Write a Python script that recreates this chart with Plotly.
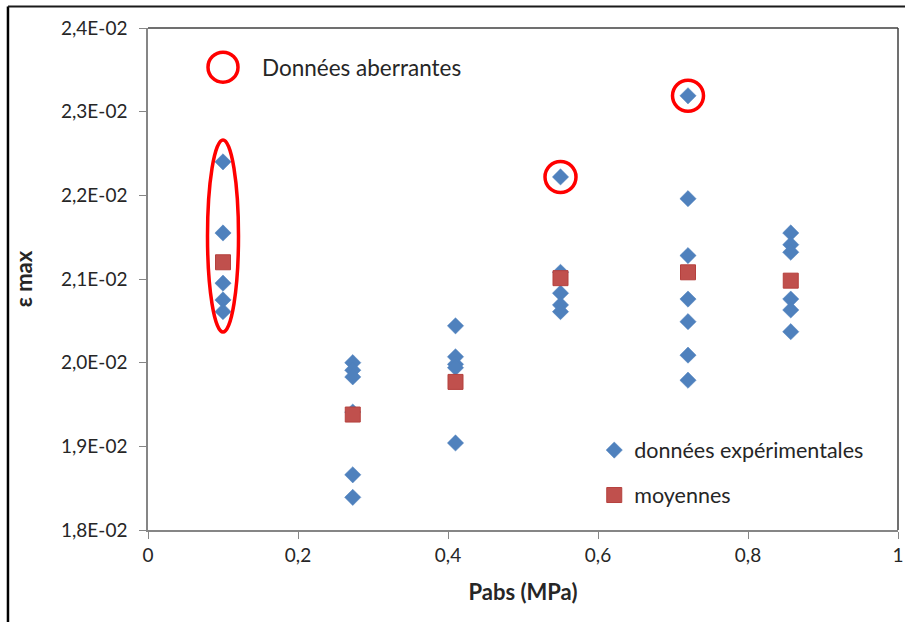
import plotly.graph_objects as go

# ---------------- data ----------------
pressures = [0.1, 0.273, 0.41, 0.55, 0.72, 0.857]

exp_p010 = [0.02240, 0.02155, 0.02095, 0.02075, 0.02061]
exp_p027 = [0.02000, 0.01991, 0.01983, 0.01941, 0.01866, 0.01839]
exp_p041 = [0.02044, 0.02007, 0.01998, 0.01994, 0.01904]
exp_p055 = [0.02222, 0.02108, 0.02083, 0.02069, 0.02061]
exp_p072 = [0.02319, 0.02196, 0.02128, 0.02076, 0.02049, 0.02009, 0.01979]
exp_p086 = [0.02155, 0.02141, 0.02132, 0.02076, 0.02063, 0.02037]

means = [0.02120, 0.01938, 0.01977, 0.02101, 0.02108, 0.02098]

# outliers to highlight (x, y)
outlier_x = [0.55, 0.72]
outlier_y = [0.02222, 0.02319]

y_tickvals = [0.018, 0.019, 0.020, 0.021, 0.022, 0.023, 0.024]
y_ticktext = ["1,8E-02", "1,9E-02", "2,0E-02", "2,1E-02", "2,2E-02", "2,3E-02", "2,4E-02"]
x_tickvals = [0, 0.2, 0.4, 0.6, 0.8, 1.0]
x_ticktext = ["0", "0,2", "0,4", "0,6", "0,8", "1"]

# ---------------- build ----------------
groups = [exp_p010, exp_p027, exp_p041, exp_p055, exp_p072, exp_p086]
exp_x, exp_y = [], []
for p, vals in zip(pressures, groups):
    exp_x += [p] * len(vals)
    exp_y += vals

FONT = "Lato, 'Open Sans', sans-serif"
TXT = "#262626"

fig = go.Figure()
fig.add_trace(go.Scatter(
    x=exp_x, y=exp_y, mode="markers", name="données expérimentales",
    legendgroup="a",
    marker=dict(symbol="diamond", size=12.5, color="#4F81BD",
                line=dict(width=0.5, color="#4F81BD")),
))
fig.add_trace(go.Scatter(
    x=pressures, y=means, mode="markers", name="moyennes",
    legendgroup="b",
    marker=dict(symbol="square", size=15, color="#C0504D",
                line=dict(width=1, color="#B5403D")),
))

shapes = []
RED = "#FF0000"
# circles around isolated outliers
for ox, oy in zip(outlier_x, outlier_y):
    shapes.append(dict(type="circle", xref="x", yref="y",
                       xsizemode="pixel", ysizemode="pixel",
                       xanchor=ox, yanchor=oy,
                       x0=-15.5, x1=15.5, y0=-15.5, y1=15.5,
                       line=dict(color=RED, width=3.5)))
# ellipse around first column
shapes.append(dict(type="circle", xref="x", yref="y",
                   xsizemode="pixel", ysizemode="pixel",
                   xanchor=pressures[0], yanchor=0.021514,
                   x0=-15.5, x1=15.5, y0=-96, y1=96,
                   line=dict(color=RED, width=3.5)))
# legend-like circle for "Données aberrantes"
shapes.append(dict(type="circle", xref="paper", yref="paper",
                   xsizemode="pixel", ysizemode="pixel",
                   xanchor=0.1, yanchor=0.922,
                   x0=-15, x1=15, y0=-15, y1=15,
                   line=dict(color=RED, width=3.5)))
# plot area top & right border
shapes.append(dict(type="line", xref="paper", yref="paper", x0=0, x1=1, y0=1, y1=1,
                   line=dict(color="#404040", width=1.5)))
shapes.append(dict(type="line", xref="paper", yref="paper", x0=1, x1=1, y0=0, y1=1,
                   line=dict(color="#404040", width=1.5)))
# outer frame (left & top)
shapes.append(dict(type="line", xref="paper", yref="paper",
                   x0=-0.1867, x1=-0.1867, y0=-0.3, y1=1.043,
                   line=dict(color="#000000", width=2.5)))
shapes.append(dict(type="line", xref="paper", yref="paper",
                   x0=-0.1867, x1=1.1, y0=1.043, y1=1.043,
                   line=dict(color="#1a1a1a", width=2)))

fig.update_layout(
    width=905, height=622,
    margin=dict(l=148, r=7, t=28, b=92, autoexpand=False),
    paper_bgcolor="white", plot_bgcolor="white",
    font=dict(family=FONT, color=TXT, size=19),
    shapes=shapes,
    showlegend=True,
    legend=dict(
        x=0.595, xanchor="left", y=0.2, yanchor="top",
        font=dict(family=FONT, size=21.5, color=TXT),
        bgcolor="rgba(0,0,0,0)", tracegroupgap=14,
        itemsizing="trace",
    ),
    annotations=[dict(
        x=0.149, y=0.922, xref="paper", yref="paper",
        xanchor="left", yanchor="middle", showarrow=False,
        text="Données aberrantes", font=dict(family=FONT, size=22.5, color=TXT),
    )],
)

fig.update_xaxes(
    range=[0, 1], tickvals=x_tickvals, ticktext=x_ticktext,
    showgrid=False, zeroline=False,
    showline=True, linecolor="#868686", linewidth=1.5,
    ticks="outside", ticklen=7, tickcolor="#868686", tickwidth=1,
    tickfont=dict(family=FONT, size=19, color=TXT),
    title=dict(text="<b>Pabs (MPa)</b>", standoff=20,
               font=dict(family=FONT, size=22, color=TXT)),
)
fig.update_yaxes(
    range=[0.018, 0.024], tickvals=y_tickvals, ticktext=y_ticktext,
    showgrid=False, zeroline=False,
    showline=True, linecolor="#868686", linewidth=1.5,
    ticks="outside", ticklen=7, tickcolor="#868686", tickwidth=1,
    ticklabelstandoff=8,
    tickfont=dict(family=FONT, size=19, color=TXT),
    title=dict(text="<b>ε max</b>", standoff=22,
               font=dict(family=FONT, size=22, color=TXT)),
)

fig.write_html("out.html", config={"displayModeBar": False},
               post_script="document.body.style.margin='0';document.body.style.padding='0';")
